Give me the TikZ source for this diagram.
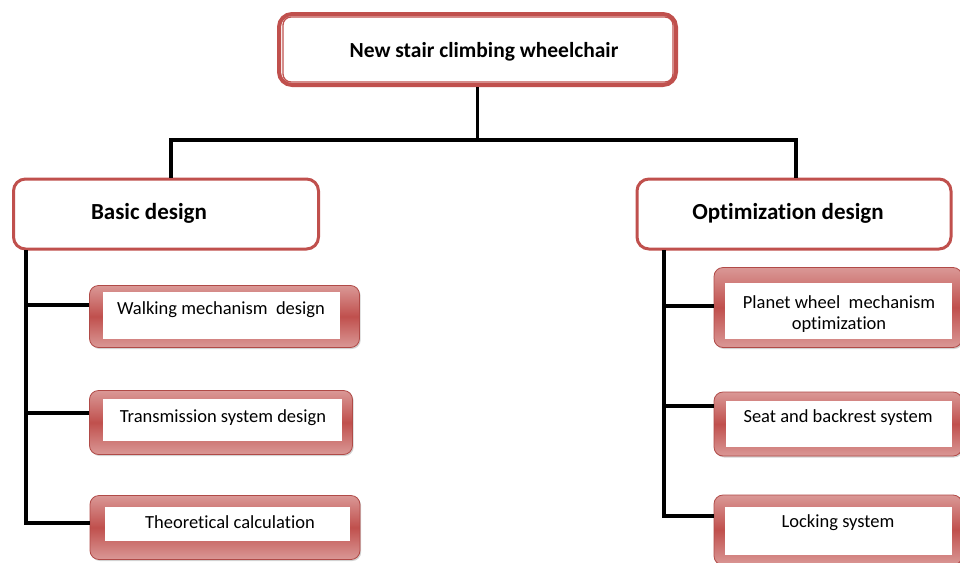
\documentclass[tikz,border=0pt]{standalone}
\usepackage{fontspec}
\setmainfont{Carlito}[Ligatures=NoCommon]
\usetikzlibrary{shadows}
\definecolor{rimred}{HTML}{C0504D}
\definecolor{pinkc}{HTML}{DA9896}
\definecolor{edgered}{HTML}{B04A47}
\begin{document}
\begin{tikzpicture}[x=1pt,y=1pt,
  conn/.style={line width=3.2pt,black,line join=miter},
  topframe/.style={draw=rimred,line width=4pt,fill=white,rounded corners=13pt,inner sep=0pt},
  headbox/.style={draw=rimred,line width=3pt,fill=white,rounded corners=12pt,inner sep=0pt},
  childbox/.style={draw=edgered,line width=0.8pt,rounded corners=9pt,inner sep=0pt,
     top color=pinkc,bottom color=pinkc,middle color=rimred,
     drop shadow={shadow xshift=1.2pt,shadow yshift=-1.5pt,opacity=0.35}},
  innerbox/.style={fill=white,inner sep=0pt},
  toptext/.style={font=\fontsize{21.5}{24}\selectfont\bfseries,inner sep=0pt},
  headtext/.style={font=\fontsize{23}{26}\selectfont\bfseries,inner sep=0pt},
  childtext/.style={font=\fontsize{18.5}{22}\selectfont,inner sep=0pt,align=center},
]
\useasboundingbox (0,0) rectangle (960,-562);

% connectors
\coordinate (hl) at (171,-140);
\coordinate (hr) at (796,-140);
\coordinate (lv) at (26,-250);
\coordinate (rv) at (664,-250);

% top
\node[topframe,minimum width=397pt,minimum height=71pt] (topbox) at (477.5,-49.5) {};
\draw[rimred,line width=1.3pt,rounded corners=8pt] ([shift={(6pt,-5pt)}]topbox.north west) coordinate (tin1) rectangle ([shift={(-5pt,5pt)}]topbox.south east) coordinate (tin2);
\node[toptext] (toplabel) at (484,-52) {New stair climbing wheelchair};

% headers
\node[headbox,minimum width=305pt,minimum height=70pt] (basic) at (166,-214) {};
\node[headtext] (basiclabel) at (149,-213) {Basic design};
\node[headbox,minimum width=314pt,minimum height=70pt] (opt) at (794,-214) {};
\node[headtext] (optlabel) at (788,-213) {Optimization design};

% left children
\node[childbox,minimum width=270pt,minimum height=62pt] (w) at (224.5,-316.5) {};
\node[innerbox,minimum width=237pt,minimum height=47pt] (wi) at (221.5,-315.5) {};
\node[childtext] (wt) at (221,-310) {Walking mechanism\ \ design};

\node[childbox,minimum width=263pt,minimum height=64pt] (t) at (221,-422.5) {};
\node[innerbox,minimum width=239pt,minimum height=42pt] (ti) at (222.5,-420) {};
\node[childtext] (tt) at (223,-418) {Transmission system design};

\node[childbox,minimum width=270pt,minimum height=64pt] (th) at (225,-527.5) {};
\node[innerbox,minimum width=245pt,minimum height=34pt] (thi) at (227.5,-523.5) {};
\node[childtext] (tht) at (230,-522) {Theoretical calculation};

% right children
\node[childbox,minimum width=248pt,minimum height=80pt] (p) at (838,-307.5) {};
\node[innerbox,minimum width=227pt,minimum height=56pt] (pi) at (838.5,-311) {};
\node[childtext] (pt) at (839,-314) {Planet wheel\ \ mechanism\\[-1pt]optimization};

\node[childbox,minimum width=248pt,minimum height=64pt] (s) at (838,-424) {};
\node[innerbox,minimum width=226pt,minimum height=46pt] (si) at (839,-424) {};
\node[childtext] (st) at (838,-418) {Seat and backrest system};

\node[childbox,minimum width=248pt,minimum height=70pt] (l) at (838,-530) {};
\node[innerbox,minimum width=227pt,minimum height=48pt] (li) at (838.5,-531) {};
\node[childtext] (lt) at (838,-523) {Locking system};

% connector lines
\draw[conn] (topbox.south) |- (hl) -- (hl |- basic.north);
\draw[conn] (topbox.south) |- (hr) -- (hr |- opt.north);
\draw[conn] (lv) |- ([yshift=4.5pt]th.west);
\draw[conn] ([yshift=11.5pt]w.west) -| (lv);
\draw[conn] ([yshift=9.5pt]t.west) -| (lv);
\draw[conn] (rv) |- ([yshift=14pt]l.west);
\draw[conn] ([yshift=1.5pt]p.west) -| (rv);
\draw[conn] ([yshift=18pt]s.west) -| (rv);
\end{tikzpicture}
\end{document}
